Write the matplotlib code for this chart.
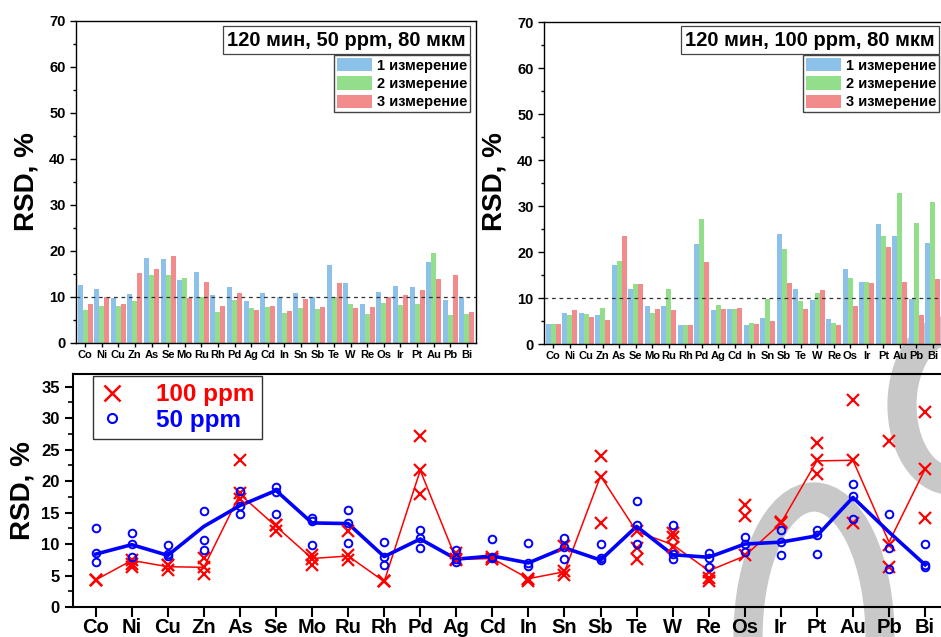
import numpy as np
import matplotlib
matplotlib.use('Agg')
import matplotlib.pyplot as plt
from matplotlib.patches import Arc
from matplotlib.ticker import MultipleLocator

plt.rcParams['font.family'] = ['Liberation Sans', 'DejaVu Sans']
plt.rcParams['font.weight'] = 'bold'

# данные
elements = ['Co', 'Ni', 'Cu', 'Zn', 'As', 'Se', 'Mo', 'Ru', 'Rh', 'Pd', 'Ag', 'Cd',
            'In', 'Sn', 'Sb', 'Te', 'W', 'Re', 'Os', 'Ir', 'Pt', 'Au', 'Pb', 'Bi']

# 50 ppm, три измерения
m1_50 = [12.6, 11.7, 9.8, 10.6, 18.4, 18.3, 13.7, 15.4, 10.4, 12.2, 9.05, 10.8,
         10.1, 10.9, 10.0, 16.9, 13.1, 8.5, 11.1, 12.3, 12.2, 17.7, 9.3, 10.0]
m2_50 = [7.15, 8.0, 8.1, 9.05, 14.8, 14.7, 14.2, 10.1, 6.7, 9.3, 7.6, 7.8,
         6.5, 7.6, 7.4, 10.0, 8.4, 6.4, 8.7, 8.2, 8.4, 19.6, 6.1, 6.3]
m3_50 = [8.5, 10.0, 8.4, 15.2, 16.1, 19.0, 9.8, 13.3, 8.0, 10.9, 7.15, 8.0,
         7.0, 9.6, 7.8, 13.1, 7.6, 7.8, 10.0, 10.4, 11.5, 13.9, 14.7, 6.7]

# 100 ppm, три измерения
m1_100 = [4.3, 6.8, 6.65, 6.4, 17.2, 12.0, 8.3, 8.3, 4.1, 21.75, 7.45, 7.7,
          4.1, 5.7, 24.0, 12.0, 9.6, 5.5, 16.2, 13.5, 26.1, 23.4, 9.85, 21.9]
m2_100 = [4.3, 6.35, 6.6, 7.75, 18.1, 13.1, 6.7, 12.0, 4.1, 27.2, 8.5, 7.7,
          4.5, 9.7, 20.7, 9.4, 11.1, 4.6, 14.45, 13.5, 23.4, 32.8, 26.35, 30.95]
m3_100 = [4.3, 7.45, 5.9, 5.25, 23.4, 13.1, 7.7, 7.45, 4.1, 17.9, 7.6, 7.9,
          4.4, 5.1, 13.3, 7.6, 11.75, 4.1, 8.2, 13.3, 21.1, 13.4, 6.35, 14.2]

# линии на нижнем графике
line_50 = [8.4, 9.9, 8.2, 12.8, 16.1, 18.5, 13.35, 13.25, 8.0, 10.8, 7.6, 8.1,
           7.0, 9.4, 7.45, 12.8, 8.3, 7.9, 10.0, 10.3, 11.3, 17.4, 11.9, 6.7]
line_100 = [4.3, 7.4, 6.4, 6.3, 17.9, 12.8, 7.7, 8.1, 4.05, 21.7, 7.55, 7.7,
            4.5, 5.6, 20.8, 12.0, 9.9, 5.75, 8.1, 13.3, 23.2, 23.3, 10.3, 21.9]

labels = ['1 измерение', '2 измерение', '3 измерение']
colors = ['#8cc1ea', '#93de8b', '#f28c8c']

W, H = 941, 637
fig = plt.figure(figsize=(W / 100, H / 100), dpi=100)

# водяной знак (серые дуги)
for (cx, cy, w, h, t1, t2) in [(814, 637, 132, 280, 0, 180), (950, 405, 96, 150, 90, 270)]:
    arc = Arc((cx / W, 1 - cy / H), w / W, h / H, theta1=t1, theta2=t2,
              transform=fig.transFigure, color='#c8c8c8', lw=21, zorder=-1)
    fig.add_artist(arc)

x = np.arange(len(elements))
bw = 0.3


def bar_panel(rect, data, title, title_right, ylab_x):
    ax = fig.add_axes(rect)
    ax.set_facecolor('none')
    for i, m in enumerate(data):
        ax.bar(x + (i - 1) * bw, m, bw, color=colors[i], label=labels[i], linewidth=0)
    ax.axhline(10, color='#333333', ls=(0, (3, 3)), lw=0.9)
    ax.set_xlim(-0.55, 23.55)
    ax.set_ylim(0, 70)
    ax.yaxis.set_major_locator(MultipleLocator(10))
    ax.yaxis.set_minor_locator(MultipleLocator(5))
    ax.set_xticks(x)
    ax.set_xticklabels(elements, fontsize=8, fontweight='bold')
    ax.tick_params(axis='y', labelsize=10.5, length=4, width=1)
    ax.tick_params(axis='y', which='minor', length=2.5, width=1)
    ax.tick_params(axis='x', length=3, width=1, pad=2)
    for s in ax.spines.values():
        s.set_linewidth(1.0)
    fig.text(ylab_x / W, 1 - 182 / H, 'RSD, %', rotation=90, fontsize=20,
             fontweight='bold', ha='center', va='center')
    fig.text((title_right - 4) / W, 1 - 40 / H, title, fontsize=14.5, fontweight='bold',
             ha='right', va='center',
             bbox=dict(boxstyle='square,pad=0.2', fc='white', ec='#444444', lw=0.9))
    ax.legend(loc='upper right', bbox_to_anchor=(title_right / W, 1 - 55 / H),
              bbox_transform=fig.transFigure, borderaxespad=0, fancybox=False,
              framealpha=1, edgecolor='#444444', handlelength=2.4,
              handleheight=1.05, labelspacing=0.25, borderpad=0.2, handletextpad=0.3,
              prop={'weight': 'bold', 'size': 10.5})
    return ax


ax1 = bar_panel([76 / W, 1 - 343 / H, 400 / W, 322 / H], [m1_50, m2_50, m3_50],
                '120 мин, 50 ppm, 80 мкм', 470, 27)
ax2 = bar_panel([544 / W, 1 - 344 / H, 398 / W, 322 / H], [m1_100, m2_100, m3_100],
                '120 мин, 100 ppm, 80 мкм', 939, 495)

# нижний график
ax3 = fig.add_axes([73 / W, 1 - 607 / H, 882 / W, 233 / H])
ax3.set_facecolor('none')
ax3.plot(x, line_100, color='red', lw=1.1, zorder=2)
ax3.plot(x, line_50, color='blue', lw=2.6, zorder=2)
for m in [m1_100, m2_100, m3_100]:
    ax3.plot(x, m, 'x', color='red', ms=8, mew=1.6, zorder=3)
for m in [m1_50, m2_50, m3_50]:
    ax3.plot(x, m, 'o', color='blue', mfc='none', ms=5.5, mew=1.4, zorder=3)
ax3.set_xlim(-0.63, 23.83)
ax3.set_ylim(0, 37)
ax3.yaxis.set_major_locator(MultipleLocator(5))
ax3.yaxis.set_minor_locator(MultipleLocator(2.5))
ax3.set_xticks(x)
ax3.set_xticklabels(elements, fontsize=14.5, fontweight='bold')
ax3.tick_params(axis='x', length=7, width=1.5, pad=1)
ax3.tick_params(axis='y', labelsize=12, length=6, width=1.5)
ax3.tick_params(axis='y', which='minor', length=3.5, width=1.2)
for s in ax3.spines.values():
    s.set_linewidth(1.5)
fig.text(22 / W, 1 - 491 / H, 'RSD, %', rotation=90, fontsize=20,
         fontweight='bold', ha='center', va='center')

h1, = ax3.plot([], [], 'x', color='red', ms=11, mew=1.8)
h2, = ax3.plot([], [], 'o', color='blue', mfc='none', ms=6.5, mew=1.5)
leg = ax3.legend([h1, h2], ['100 ppm', '50 ppm'], loc='upper left',
                 bbox_to_anchor=(93 / W, 1 - 376 / H), bbox_transform=fig.transFigure,
                 borderaxespad=0, fancybox=False, framealpha=1, edgecolor='#333333',
                 prop={'weight': 'bold', 'size': 17.5}, handlelength=1.0,
                 handletextpad=1.3, labelspacing=0.1, borderpad=0.3)
leg.get_frame().set_linewidth(1.0)
for t, c in zip(leg.get_texts(), ['red', 'blue']):
    t.set_color(c)

fig.savefig('out.png', dpi=100)
